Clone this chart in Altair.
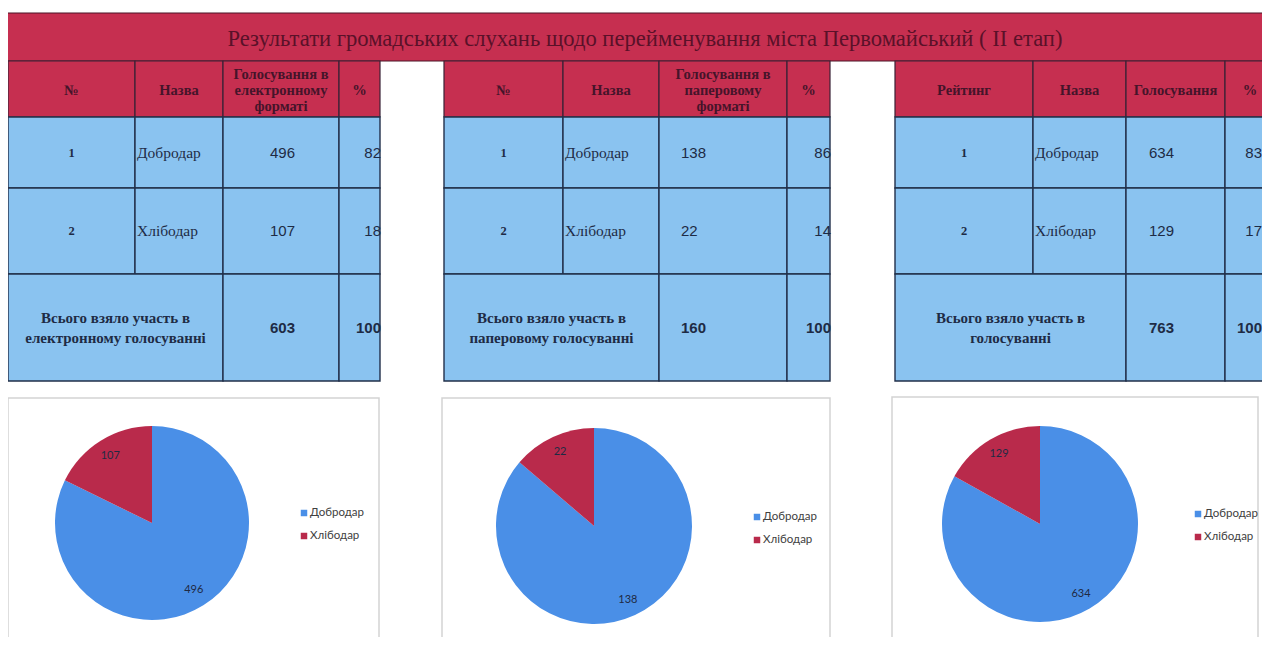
import altair as alt
import pandas as pd

# ---------------- data ----------------
title_text = "Результати громадських слухань щодо перейменування міста Первомайський ( II етап)"
candidates = ["Добродар", "Хлібодар"]
ranks = [1, 2]
electronic_votes = [496, 107]
electronic_pct = [82, 18]
electronic_total = 603
paper_votes = [138, 22]
paper_pct = [86, 14]
paper_total = 160
combined_votes = [634, 129]
combined_pct = [83, 17]
combined_total = 763
total_pct = 100
first_headers = ["№", "№", "Рейтинг"]
name_header = "Назва"
vote_headers = ["Голосування в\nелектронному\nформаті",
                "Голосування в\nпаперовому\nформаті",
                "Голосування"]
pct_header = "%"
total_labels = ["Всього взяло участь в\nелектронному голосуванні",
                "Всього взяло участь в\nпаперовому голосуванні",
                "Всього взяло участь в\nголосуванні"]

tables = [
    (electronic_votes, electronic_pct, electronic_total),
    (paper_votes, paper_pct, paper_total),
    (combined_votes, combined_pct, combined_total),
]

# ---------------- layout (screen pixels) ----------------
SCREEN_W, SCREEN_H = 1262, 637
col_edges = [[8, 135, 223, 339, 380], [444, 563, 659, 787, 830], [895, 1033, 1126, 1225, 1275]]
row_edges = [61, 117, 188, 274, 381]
vote_left = [270, 681, 1149]
pct_right = [381, 831, 1262]
band_box = (4, 13, 1275, 61)
pie_boxes = [(8, 398, 379, 650), (442, 398, 830, 650), (892, 397, 1258, 650)]
pie_centers = [(152, 523), (594, 526), (1040, 524)]
pie_radius = [97, 98, 98]
label_radius = [79, 81, 81]
legend_pos = [(304, 513), (757, 517), (1198, 514)]
HEAD_LH = 16
TOT_LH = 20

crimson = "#C62F50"
cell_blue = "#8AC3F0"
border = "#22304A"
pie_blue = "#4A8FE7"
pie_red = "#B92A4B"
ink = "#1E2B45"
maroon_ink = "#45142A"

XS = alt.Scale(domain=[8, SCREEN_W], nice=False, zero=False)
YS = alt.Scale(domain=[8, SCREEN_H], nice=False, zero=False, reverse=True)
COLOR = alt.Scale(domain=candidates, range=[pie_blue, pie_red])


def X(f):
    return alt.X(f, type="quantitative", scale=XS, axis=None)


def Y(f):
    return alt.Y(f, type="quantitative", scale=YS, axis=None)


def first_line_y(center, text, lh):
    n = text.count("\n") + 1
    return center - (n - 1) * lh / 2


# ---------------- build frames ----------------
band_df = pd.DataFrame([dict(x=band_box[0], y=band_box[1], x2=band_box[2], y2=band_box[3])])

head_cells, body_cells = [], []
head_txt, rank_txt, name_txt, vote_txt, pct_txt, tot_lbl, tot_num, tot_pct = ([] for _ in range(8))
for t, (votes, pcts, total) in enumerate(tables):
    e = col_edges[t]
    r = row_edges
    for c in range(4):
        head_cells.append(dict(x=e[c], x2=e[c + 1], y=r[0], y2=r[1]))
    for k in range(2):
        for c in range(4):
            body_cells.append(dict(x=e[c], x2=e[c + 1], y=r[k + 1], y2=r[k + 2]))
    body_cells.append(dict(x=e[0], x2=e[2], y=r[3], y2=r[4]))
    body_cells.append(dict(x=e[2], x2=e[3], y=r[3], y2=r[4]))
    body_cells.append(dict(x=e[3], x2=e[4], y=r[3], y2=r[4]))

    hy = (r[0] + r[1]) / 2 + 2
    heads = [first_headers[t], name_header, vote_headers[t], pct_header]
    for c in range(4):
        xc = (e[c] + min(e[c + 1], 1280)) / 2
        head_txt.append(dict(x=xc, y=first_line_y(hy, heads[c], HEAD_LH), text=heads[c]))
    for k in range(2):
        ry = (r[k + 1] + r[k + 2]) / 2
        rank_txt.append(dict(x=(e[0] + e[1]) / 2, y=ry, text=str(ranks[k])))
        name_txt.append(dict(x=e[1] + 2, y=ry, text=candidates[k]))
        vote_txt.append(dict(x=vote_left[t], y=ry, text=str(votes[k])))
        pct_txt.append(dict(x=pct_right[t], y=ry, text=str(pcts[k])))
    ty = (r[3] + r[4]) / 2
    tot_lbl.append(dict(x=(e[0] + e[2]) / 2, y=first_line_y(ty, total_labels[t], TOT_LH), text=total_labels[t]))
    tot_num.append(dict(x=vote_left[t], y=ty, text=str(total)))
    tot_pct.append(dict(x=pct_right[t], y=ty, text=str(total_pct)))

box_df = pd.DataFrame([dict(x=b[0], y=b[1], x2=b[2], y2=b[3]) for b in pie_boxes])

legend_rows = []
for p, (lx, ly) in enumerate(legend_pos):
    for k, nm in enumerate(candidates):
        legend_rows.append(dict(x=lx, y=ly + 23 * k, tx=lx + 6, name=nm))
legend_df = pd.DataFrame(legend_rows)

rect_enc = dict(x=X("x"), x2="x2", y=Y("y"), y2="y2")
txt_enc = dict(x=X("x"), y=Y("y"), text="text:N")

layers = []
layers.append(alt.Chart(band_df).mark_rect(fill=crimson, stroke="#4A1426", strokeWidth=1.2).encode(**rect_enc))
layers.append(alt.Chart(pd.DataFrame(head_cells)).mark_rect(fill=crimson, stroke="#3A2236", strokeWidth=1.2).encode(**rect_enc))
layers.append(alt.Chart(pd.DataFrame(body_cells)).mark_rect(fill=cell_blue, stroke=border, strokeWidth=1.4).encode(**rect_enc))
layers.append(alt.Chart(box_df).mark_rect(fill="white", stroke="#D3D3D3", strokeWidth=1.5).encode(**rect_enc))

layers.append(alt.Chart(pd.DataFrame([dict(x=645, y=39, text=title_text)])).mark_text(
    font="Liberation Serif", fontSize=22.6, color="#5A1129", baseline="middle").encode(**txt_enc))
layers.append(alt.Chart(pd.DataFrame(head_txt)).mark_text(
    font="Liberation Serif", fontSize=14.5, fontWeight="bold", color=maroon_ink,
    baseline="middle", lineBreak="\n", lineHeight=HEAD_LH).encode(**txt_enc))
layers.append(alt.Chart(pd.DataFrame(rank_txt)).mark_text(
    font="Liberation Serif", fontSize=12.5, fontWeight="bold", color=ink, baseline="middle").encode(**txt_enc))
layers.append(alt.Chart(pd.DataFrame(name_txt)).mark_text(
    font="Liberation Serif", fontSize=15.5, color=ink, baseline="middle", align="left").encode(**txt_enc))
layers.append(alt.Chart(pd.DataFrame(vote_txt)).mark_text(
    font="Liberation Sans", fontSize=15, color=ink, baseline="middle", align="left").encode(**txt_enc))
layers.append(alt.Chart(pd.DataFrame(pct_txt)).mark_text(
    font="Liberation Sans", fontSize=15, color=ink, baseline="middle", align="right").encode(**txt_enc))
layers.append(alt.Chart(pd.DataFrame(tot_lbl)).mark_text(
    font="Liberation Serif", fontSize=15, fontWeight="bold", color=ink, baseline="middle",
    lineBreak="\n", lineHeight=TOT_LH).encode(**txt_enc))
layers.append(alt.Chart(pd.DataFrame(tot_num)).mark_text(
    font="Liberation Sans", fontSize=15, fontWeight="bold", color=ink, baseline="middle", align="left").encode(**txt_enc))
layers.append(alt.Chart(pd.DataFrame(tot_pct)).mark_text(
    font="Liberation Sans", fontSize=15, fontWeight="bold", color=ink, baseline="middle", align="right").encode(**txt_enc))

# pies
for p, (votes, pcts, total) in enumerate(tables):
    df = pd.DataFrame({"name": candidates, "votes": votes, "idx": [0, 1]})
    cx, cy = pie_centers[p]
    base = alt.Chart(df).transform_joinaggregate(
        tot="sum(votes)"
    ).transform_calculate(
        frac="datum.votes / datum.tot"
    ).encode(
        theta=alt.Theta("frac:Q", stack=True, scale=alt.Scale(domain=[0, 1])),
        order=alt.Order("idx:Q"),
        x=alt.value(cx - 8),
        y=alt.value(cy - 8),
    )
    layers.append(base.mark_arc(outerRadius=pie_radius[p]).encode(
        color=alt.Color("name:N", scale=COLOR, legend=None)))
    layers.append(base.mark_text(radius=label_radius[p], font="Lato", fontSize=11, color="#1F2A44",
                                 baseline="middle").encode(text="votes:Q"))

layers.append(alt.Chart(legend_df).mark_square(size=42, opacity=1).encode(
    x=X("x"), y=Y("y"), color=alt.Color("name:N", scale=COLOR, legend=None)))
layers.append(alt.Chart(legend_df).mark_text(font="Lato", fontSize=11.5, color="#404040",
                                             align="left", baseline="middle").encode(
    x=X("tx"), y=Y("y"), text="name:N"))

chart = alt.layer(*layers).properties(
    width=SCREEN_W - 8, height=SCREEN_H - 8, padding=0,
    autosize=alt.AutoSizeParams(type="none"),
).configure_view(stroke=None)

chart.save("out.html", embed_options={"renderer": "svg", "actions": False})
